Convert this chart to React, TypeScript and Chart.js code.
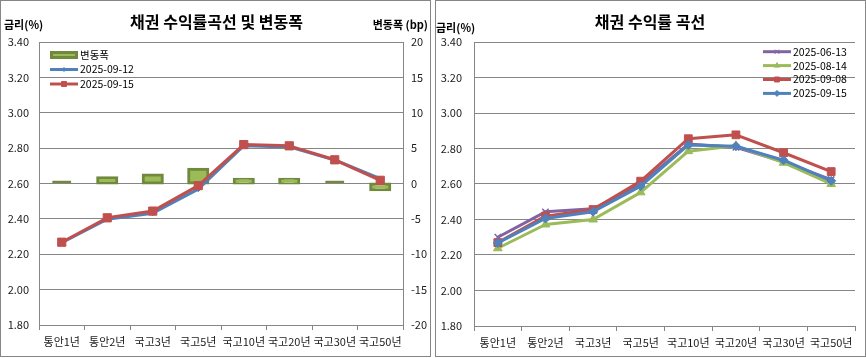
import React, { useEffect, useRef } from 'react';
import { Chart, registerables } from 'chart.js';
import { drawPoint } from 'chart.js/helpers';

Chart.register(...registerables);

// ---------- data ----------
const categories = ['통안1년', '통안2년', '국고3년', '국고5년', '국고10년', '국고20년', '국고30년', '국고50년'];

// left chart
const yield0912 = [2.266, 2.398, 2.432, 2.568, 2.814, 2.807, 2.733, 2.627];
const yield0915 = [2.268, 2.406, 2.444, 2.588, 2.82, 2.813, 2.734, 2.618];
const changeBp = [0.2, 0.8, 1.2, 2.0, 0.6, 0.6, 0.1, -0.9];

// right chart
const yield0613 = [2.3, 2.443, 2.46, 2.6, 2.825, 2.807, 2.725, 2.625];
const yield0814 = [2.238, 2.372, 2.4, 2.553, 2.785, 2.815, 2.72, 2.6];
const yield0908 = [2.27, 2.419, 2.456, 2.616, 2.855, 2.877, 2.776, 2.67];

const rateMin = 1.8;
const rateMax = 3.4;
const rateStep = 0.2;
const bpMin = -20;
const bpMax = 20;
const bpStep = 5;

const leftTitle = '채권 수익률곡선 및 변동폭';
const rightTitle = '채권 수익률 곡선';
const rateAxisTitle = '금리(%)';
const bpAxisTitle = '변동폭 (bp)';
const leftLabels = ['변동폭', '2025-09-12', '2025-09-15'];
const rightLabels = ['2025-06-13', '2025-08-14', '2025-09-08', '2025-09-15'];

// ---------- styles ----------
const FONT = "'Noto Sans CJK KR', 'Noto Sans', sans-serif";
const TEXT = '#1a1a1a';
const GRID = '#868686';
const BLUE = '#4F81BD';
const RED = '#C0504D';
const GREEN = '#9BBB59';
const GREEN_DARK = '#71893F';
const PURPLE = '#8064A2';
const W = 432;
const H = 358;

type LegendItem = { label: string; kind: 'bar' | 'line'; color: string; style?: string; radius?: number };

function decorPlugin(cfg: {
  id: string;
  title: string;
  titleX: number;
  leftTitle: { text: string; x: number; y: number };
  rightTitle?: { text: string; x: number; y: number };
  legend: LegendItem[];
  legendX: number;
  legendY: number;
  legendGap: number;
  border: { x: number; y: number; w: number; h: number };
}) {
  return {
    id: cfg.id,
    afterDraw(chart: any) {
      const ctx: CanvasRenderingContext2D = chart.ctx;
      ctx.save();
      // outer border
      ctx.strokeStyle = GRID;
      ctx.lineWidth = 1;
      ctx.strokeRect(cfg.border.x, cfg.border.y, cfg.border.w, cfg.border.h);
      // title
      ctx.fillStyle = '#000';
      ctx.font = `bold 16px ${FONT}`;
      ctx.textAlign = 'center';
      ctx.textBaseline = 'middle';
      ctx.fillText(cfg.title, cfg.titleX, 22);
      // axis titles
      ctx.font = `bold 11px ${FONT}`;
      ctx.textAlign = 'left';
      ctx.fillText(cfg.leftTitle.text, cfg.leftTitle.x, cfg.leftTitle.y);
      if (cfg.rightTitle) {
        ctx.textAlign = 'right';
        ctx.fillText(cfg.rightTitle.text, cfg.rightTitle.x, cfg.rightTitle.y);
      }
      // legend
      cfg.legend.forEach((it, i) => {
        const y = cfg.legendY + i * cfg.legendGap;
        const x0 = cfg.legendX;
        const x1 = x0 + 28;
        if (it.kind === 'bar') {
          ctx.fillStyle = GREEN;
          ctx.strokeStyle = GREEN_DARK;
          ctx.lineWidth = 3;
          ctx.beginPath();
          ctx.rect(x0 + 1.5, y - 2.5, 25, 5);
          ctx.fill();
          ctx.stroke();
        } else {
          ctx.strokeStyle = it.color;
          ctx.lineWidth = 3;
          ctx.beginPath();
          ctx.moveTo(x0, y);
          ctx.lineTo(x1, y);
          ctx.stroke();
          ctx.fillStyle = it.color;
          ctx.strokeStyle = it.color;
          ctx.lineWidth = 1;
          drawPoint(ctx, { pointStyle: it.style, radius: it.radius || 3, rotation: 0, borderWidth: 1 } as any, (x0 + x1) / 2, y);
        }
        ctx.fillStyle = '#000';
        ctx.font = `10.5px ${FONT}`;
        ctx.textAlign = 'left';
        ctx.textBaseline = 'middle';
        ctx.fillText(it.label, x1 + 2, y);
      });
      ctx.restore();
    },
  };
}

const tickFont = { family: FONT, size: 11 };
const fmt2 = (v: any) => Number(v).toFixed(2);

function leftConfig(): any {
  return {
    type: 'bar',
    data: {
      labels: categories,
      datasets: [
        {
          type: 'bar',
          label: leftLabels[0],
          data: changeBp,
          yAxisID: 'y2',
          backgroundColor: GREEN,
          borderColor: GREEN_DARK,
          borderWidth: 3,
          borderSkipped: false,
          barPercentage: 0.42,
          categoryPercentage: 1,
          minBarLength: 3,
          inflateAmount: (c: any) => (Math.abs(c.raw) < 0.3 ? 0 : 1.5),
          order: 3,
        },
        {
          type: 'line',
          label: leftLabels[1],
          data: yield0912,
          yAxisID: 'y',
          borderColor: BLUE,
          backgroundColor: BLUE,
          borderWidth: 3,
          borderJoinStyle: 'round',
          pointStyle: 'rectRot',
          pointRadius: 2.5,
          pointBorderWidth: 1,
          tension: 0,
          order: 2,
        },
        {
          type: 'line',
          label: leftLabels[2],
          data: yield0915,
          yAxisID: 'y',
          borderColor: RED,
          backgroundColor: RED,
          borderWidth: 3,
          borderJoinStyle: 'round',
          pointStyle: 'rect',
          pointRadius: 5.8,
          pointBorderWidth: 1,
          tension: 0,
          order: 1,
        },
      ],
    },
    options: {
      responsive: false,
      animation: false,
      layout: { padding: { top: 42, left: 0, right: 0, bottom: 0 } },
      plugins: { legend: { display: false }, tooltip: { enabled: false }, title: { display: false } },
      scales: {
        x: {
          grid: { display: true, drawOnChartArea: false, drawTicks: true, tickLength: 5, color: GRID, offset: true },
          border: { display: true, color: GRID },
          ticks: { font: tickFont, color: TEXT, padding: 5, maxRotation: 0, autoSkip: false },
          afterFit: (s: any) => { s.height = 33; },
        },
        y: {
          position: 'left',
          min: rateMin,
          max: rateMax,
          ticks: { stepSize: rateStep, callback: fmt2, padding: 10, font: tickFont, color: TEXT },
          grid: { color: GRID, drawTicks: false },
          border: { display: true, color: GRID },
          afterFit: (s: any) => { s.width = 39; },
        },
        y2: {
          position: 'right',
          min: bpMin,
          max: bpMax,
          ticks: { stepSize: bpStep, padding: 8, font: tickFont, color: TEXT },
          grid: { drawOnChartArea: false, drawTicks: false },
          border: { display: true, color: GRID },
          afterFit: (s: any) => { s.width = 29; },
        },
      },
    },
    plugins: [
      decorPlugin({
        id: 'leftDecor',
        title: leftTitle,
        titleX: 216.5,
        leftTitle: { text: rateAxisTitle, x: 4, y: 25 },
        rightTitle: { text: bpAxisTitle, x: 428, y: 25 },
        legend: [
          { label: leftLabels[0], kind: 'bar', color: GREEN },
          { label: leftLabels[1], kind: 'line', color: BLUE, style: 'rectRot', radius: 2 },
          { label: leftLabels[2], kind: 'line', color: RED, style: 'rect', radius: 3.5 },
        ],
        legendX: 50,
        legendY: 55,
        legendGap: 14.5,
        border: { x: 0.5, y: 0.5, w: 430, h: 356 },
      }),
    ],
  };
}

function rightConfig(): any {
  const line = (label: string, data: number[], color: string, style: string, radius: number, order: number) => ({
    type: 'line',
    label,
    data,
    borderColor: color,
    backgroundColor: color,
    borderWidth: 3,
    borderJoinStyle: 'round',
    pointStyle: style,
    pointRadius: radius,
    pointBorderWidth: style === 'crossRot' ? 1.5 : 1,
    tension: 0,
    order,
  });
  return {
    type: 'line',
    data: {
      labels: categories,
      datasets: [
        line(rightLabels[0], yield0613, PURPLE, 'crossRot', 4.5, 4),
        line(rightLabels[1], yield0814, GREEN, 'triangle', 5, 3),
        line(rightLabels[2], yield0908, RED, 'rect', 5.5, 2),
        line(rightLabels[3], yield0915, BLUE, 'rectRot', 4.5, 1),
      ],
    },
    options: {
      responsive: false,
      animation: false,
      layout: { padding: { top: 42, left: 0, right: 11, bottom: 0 } },
      plugins: { legend: { display: false }, tooltip: { enabled: false }, title: { display: false } },
      scales: {
        x: {
          offset: true,
          grid: { display: true, drawOnChartArea: false, drawTicks: true, tickLength: 5, color: GRID, offset: true },
          border: { display: true, color: GRID },
          ticks: { font: tickFont, color: TEXT, padding: 5, maxRotation: 0, autoSkip: false },
          afterFit: (s: any) => { s.height = 32; },
        },
        y: {
          position: 'left',
          min: rateMin,
          max: rateMax,
          ticks: { stepSize: rateStep, callback: fmt2, padding: 12, font: tickFont, color: TEXT },
          grid: { color: GRID, drawTicks: false },
          border: { display: true, color: GRID },
          afterFit: (s: any) => { s.width = 40; },
        },
      },
    },
    plugins: [
      decorPlugin({
        id: 'rightDecor',
        title: rightTitle,
        titleX: 216,
        leftTitle: { text: rateAxisTitle, x: 2, y: 28 },
        legend: [
          { label: rightLabels[0], kind: 'line', color: PURPLE, style: 'crossRot', radius: 3 },
          { label: rightLabels[1], kind: 'line', color: GREEN, style: 'triangle', radius: 3 },
          { label: rightLabels[2], kind: 'line', color: RED, style: 'rect', radius: 3.5 },
          { label: rightLabels[3], kind: 'line', color: BLUE, style: 'rectRot', radius: 3 },
        ],
        legendX: 329,
        legendY: 51.7,
        legendGap: 13.9,
        border: { x: 1.5, y: 0.5, w: 430, h: 356 },
      }),
    ],
  };
}

function ChartCanvas({ make, left }: { make: () => any; left: number }) {
  const ref = useRef<HTMLCanvasElement | null>(null);
  useEffect(() => {
    if (!ref.current) return;
    const chart = new Chart(ref.current, make());
    return () => chart.destroy();
  }, [make]);
  return (
    <canvas
      ref={ref}
      width={W}
      height={H}
      style={{ position: 'absolute', left, top: 0, width: W, height: H, display: 'block' }}
    />
  );
}

export default function App() {
  return (
    <div style={{ position: 'fixed', left: 0, top: 0, width: 866, height: 358, background: '#fff', overflow: 'hidden' }}>
      <ChartCanvas make={leftConfig} left={0} />
      <ChartCanvas make={rightConfig} left={434} />
    </div>
  );
}
